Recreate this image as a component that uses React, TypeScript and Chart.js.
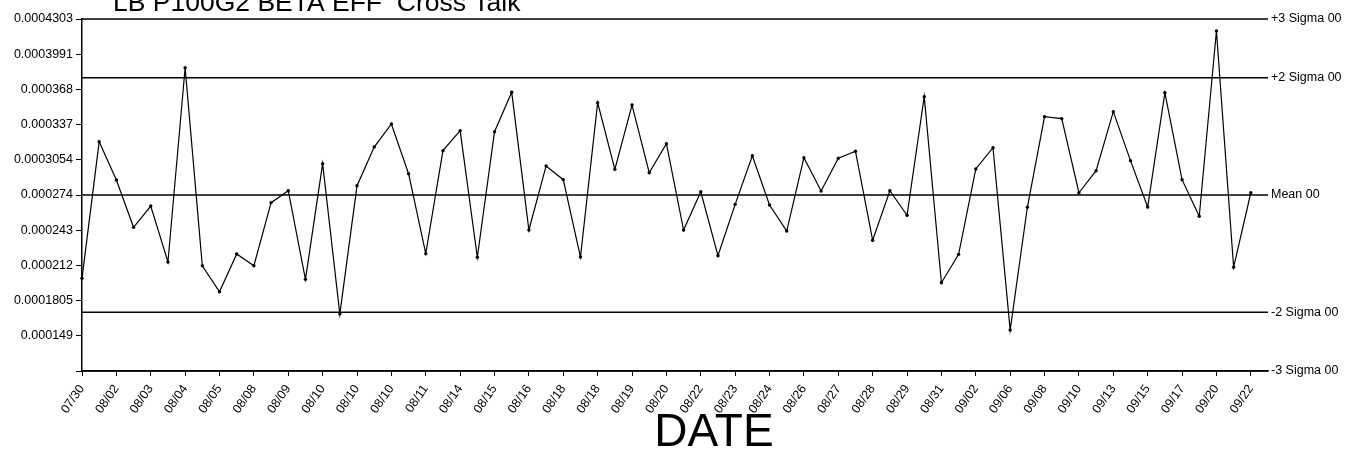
import React, { useEffect, useRef } from "react";
import { Chart, registerables } from "chart.js";

Chart.register(...registerables);

const titleText = "LB P100G2 BETA EFF  Cross Talk";
const xTitle = "DATE";

const dates = [
  "07/30", "08/02", "08/03", "08/04", "08/05", "08/08", "08/09", "08/10", "08/10", "08/10",
  "08/11", "08/14", "08/15", "08/16", "08/18", "08/18", "08/19", "08/20", "08/22", "08/23",
  "08/24", "08/26", "08/27", "08/28", "08/29", "08/31", "09/02", "09/06", "09/08", "09/10",
  "09/13", "09/15", "09/17", "09/20", "09/22",
];

const values = [
  0.0002000, 0.0003213, 0.0002873, 0.0002453, 0.0002642, 0.0002145, 0.0003870, 0.0002112, 0.0001881, 0.0002216,
  0.0002112, 0.0002672, 0.0002778, 0.0001991, 0.0003018, 0.0001683, 0.0002823, 0.0003166, 0.0003371, 0.0002929,
  0.0002219, 0.0003134, 0.0003311, 0.0002187, 0.0003302, 0.0003652, 0.0002429, 0.0002998, 0.0002876, 0.0002189,
  0.0003560, 0.0002968, 0.0003539, 0.0002938, 0.0003196, 0.0002429, 0.0002769, 0.0002201, 0.0002657, 0.0003089,
  0.0002651, 0.0002420, 0.0003071, 0.0002776, 0.0003066, 0.0003128, 0.0002338, 0.0002778, 0.0002560, 0.0003613,
  0.0001961, 0.0002213, 0.0002971, 0.0003160, 0.0001541, 0.0002631, 0.0003435, 0.0003418, 0.0002760, 0.0002956,
  0.0003480, 0.0003045, 0.0002633, 0.0003649, 0.0002876, 0.0002551, 0.0004197, 0.0002098, 0.0002760,
];

const yTickValues = [
  0.0001177, 0.000149, 0.0001803, 0.0002115, 0.0002428, 0.000274, 0.0003053, 0.0003365, 0.0003678, 0.0003991, 0.0004303,
];
const yTickLabels = [
  "", "0.000149", "0.0001805", "0.000212", "0.000243", "0.000274", "0.0003054", "0.000337", "0.000368", "0.0003991", "0.0004303",
];

const sigmaNames = ["+3 Sigma 00", "+2 Sigma 00", "Mean 00", "-2 Sigma 00", "-3 Sigma 00"];
const sigmaValues = [0.0004303, 0.0003782, 0.000274, 0.0001698, 0.0001177];

const FONT = "'Liberation Sans', Arial, Helvetica, sans-serif";

const textPlugin = {
  id: "extraText",
  afterDraw(chart: any) {
    const ctx = chart.ctx;
    const ys = chart.scales.y;
    const area = chart.chartArea;
    ctx.save();
    ctx.fillStyle = "#000";
    ctx.font = `12.5px ${FONT}`;
    ctx.textAlign = "left";
    ctx.textBaseline = "middle";
    sigmaNames.forEach((n, i) => {
      ctx.fillText(n, area.right + 3, ys.getPixelForValue(sigmaValues[i]));
    });
    ctx.textBaseline = "alphabetic";
    ctx.font = `26.5px ${FONT}`;
    ctx.fillText(titleText, 113, 11);
    ctx.font = `46px ${FONT}`;
    ctx.textAlign = "center";
    ctx.fillText(xTitle, 714, 446);
    ctx.restore();
  },
};

export default function App() {
  const ref = useRef<HTMLCanvasElement>(null);

  useEffect(() => {
    if (!ref.current) return;
    const lastX = values.length; // one extra step of room on the right
    const datasets: any[] = sigmaValues.map((v) => ({
      data: [
        { x: 0, y: v },
        { x: lastX, y: v },
      ],
      borderColor: "#000",
      borderWidth: 1.5,
      pointRadius: 0,
      clip: false,
      order: 2,
    }));
    datasets.push({
      data: values.map((v, i) => ({ x: i, y: v })),
      borderColor: "#000",
      borderWidth: 1.2,
      pointRadius: 1.7,
      pointBackgroundColor: "#000",
      pointBorderWidth: 0,
      clip: false,
      order: 1,
    });

    const chart = new Chart(ref.current, {
      type: "line",
      data: { datasets },
      options: {
        animation: false,
        responsive: false,
        events: [],
        layout: { padding: { top: 19, right: 90, left: 0, bottom: 0 } },
        plugins: { legend: { display: false }, tooltip: { enabled: false }, title: { display: false } },
        scales: {
          x: {
            type: "linear",
            min: 0,
            max: lastX,
            afterBuildTicks: (s: any) => {
              s.ticks = dates.map((_, k) => ({ value: 2 * k }));
            },
            afterFit: (s: any) => {
              s.height = 84;
            },
            ticks: {
              autoSkip: false,
              minRotation: 55,
              maxRotation: 55,
              padding: 6,
              color: "#000",
              font: { size: 12.5, family: FONT },
              callback: (v: any) => dates[Math.round(Number(v) / 2)] ?? "",
            },
            grid: { drawOnChartArea: false, color: "#000", tickLength: 5, lineWidth: 1 },
            border: { color: "#000", width: 1.5 },
          },
          y: {
            type: "linear",
            min: yTickValues[0],
            max: yTickValues[yTickValues.length - 1],
            afterBuildTicks: (s: any) => {
              s.ticks = yTickValues.map((v) => ({ value: v }));
            },
            afterFit: (s: any) => {
              s.width = 82;
            },
            ticks: {
              autoSkip: false,
              padding: 3,
              color: "#000",
              font: { size: 12.5, family: FONT },
              callback: (_v: any, i: number) => yTickLabels[i],
            },
            grid: { drawOnChartArea: false, color: "#000", tickLength: 6, lineWidth: 1 },
            border: { color: "#000", width: 1.5 },
          },
        },
      } as any,
      plugins: [textPlugin],
    });
    return () => chart.destroy();
  }, []);

  return (
    <div style={{ position: "fixed", left: 0, top: 0, width: 1358, height: 455, background: "#fff" }}>
      <canvas ref={ref} width={1358} height={455} style={{ display: "block" }} />
    </div>
  );
}
